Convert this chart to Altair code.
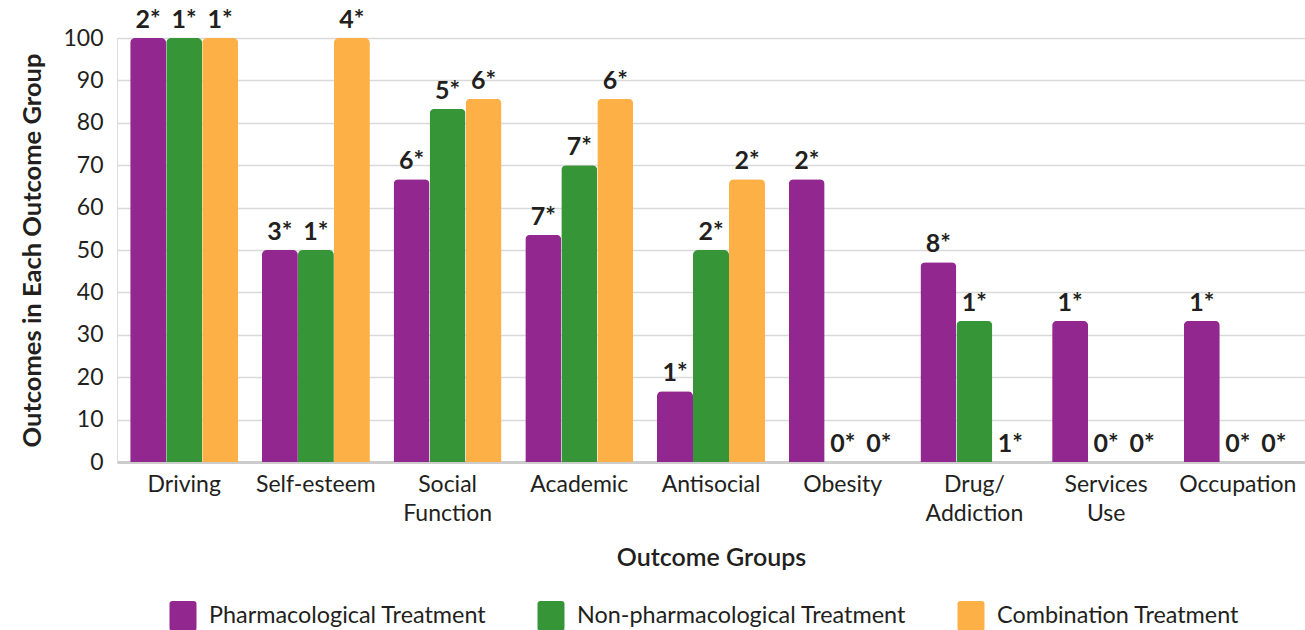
import altair as alt
import pandas as pd

# Outcome groups along the x axis
groups = ["Driving", "Self-esteem", "Social Function", "Academic", "Antisocial",
          "Obesity", "Drug/Addiction", "Services Use", "Occupation"]

# Treatment types (series)
series = ["Pharmacological Treatment", "Non-pharmacological Treatment", "Combination Treatment"]
colors = ["#92278F", "#369537", "#FDB045"]

# Percent of outcomes in each outcome group, per treatment type
pharm_pct = [100, 50, 66.7, 53.6, 16.7, 66.7, 47.1, 33.3, 33.3]
nonpharm_pct = [100, 50, 83.3, 70, 50, 0, 33.3, 0, 0]
combo_pct = [100, 100, 85.7, 85.7, 66.7, 0, 0, 0, 0]

# Number of studies shown above each bar
pharm_n = [2, 3, 6, 7, 1, 2, 8, 1, 1]
nonpharm_n = [1, 1, 5, 7, 2, 0, 1, 0, 0]
combo_n = [1, 4, 6, 6, 2, 0, 1, 0, 0]

rows = []
for s, pct, n in zip(series, [pharm_pct, nonpharm_pct, combo_pct], [pharm_n, nonpharm_n, combo_n]):
    for g, v, k in zip(groups, pct, n):
        rows.append({"group": g, "series": s, "value": v, "label": f"{k}*"})
df = pd.DataFrame(rows)

FONT = "Lato"
INK = "#231F20"

# rounded-rectangle legend swatch, path coordinates in [-1, 1]
SWATCH = ("M-0.7,-1 L0.7,-1 Q0.9,-1 0.9,-0.8 L0.9,0.8 Q0.9,1 0.7,1 "
          "L-0.7,1 Q-0.9,1 -0.9,0.8 L-0.9,-0.8 Q-0.9,-1 -0.7,-1 Z")

x_enc = alt.X(
    "group:N", sort=groups,
    scale=alt.Scale(paddingInner=0.18, paddingOuter=0.1),
    axis=alt.Axis(
        title="Outcome Groups", labelAngle=0, labelFontSize=23, labelColor=INK,
        labelFont=FONT, labelPadding=11, labelLineHeight=29,
        labelExpr="datum.label == 'Drug/Addiction' ? ['Drug/', 'Addiction'] : split(datum.label, ' ')",
        ticks=False, domainColor="#cccccc", domainWidth=3,
        titleFontSize=25, titleFontWeight=600, titleColor=INK, titleFont=FONT,
        titlePadding=20,
    ),
)
off_enc = alt.XOffset("series:N", sort=series)

bars = alt.Chart(df).mark_bar(cornerRadiusTopLeft=5, cornerRadiusTopRight=5).encode(
    x=x_enc,
    xOffset=off_enc,
    y=alt.Y(
        "value:Q", scale=alt.Scale(domain=[0, 100], nice=False),
        axis=alt.Axis(
            title="Outcomes in Each Outcome Group", values=list(range(0, 101, 10)),
            labelFontSize=23, labelColor=INK, labelFont=FONT, labelPadding=14,
            ticks=False, domain=False, gridColor="#d9d9d9", gridWidth=1.5,
            titleFontSize=25.5, titleFontWeight="bold", titleColor=INK, titleFont=FONT,
            titlePadding=17,
        ),
    ),
    color=alt.Color(
        "series:N", sort=series,
        scale=alt.Scale(domain=series, range=colors),
        legend=alt.Legend(
            title=None, orient="none", direction="horizontal",
            legendX=51, legendY=563,
            symbolType=SWATCH, symbolSize=900, symbolStrokeWidth=0, symbolOpacity=1,
            labelFontSize=23.4, labelColor=INK, labelFont=FONT, labelOffset=11,
            labelLimit=500, columnPadding=49,
        ),
    ),
)

labels = alt.Chart(df).mark_text(
    fontSize=25, fontWeight="bold", color=INK, font=FONT,
    baseline="alphabetic", dy=-10,
).encode(
    x=alt.X("group:N", sort=groups),
    xOffset=off_enc,
    y=alt.Y("value:Q"),
    text="label:N",
)

chart = (bars + labels).properties(
    width=1188, height=424,
    autosize=alt.AutoSizeParams(type="none"),
    padding={"left": 117, "top": 38, "right": 0, "bottom": 168},
).configure_view(stroke=None).configure(background="white")

chart.save("out.html", embed_options={"renderer": "svg", "actions": False})
